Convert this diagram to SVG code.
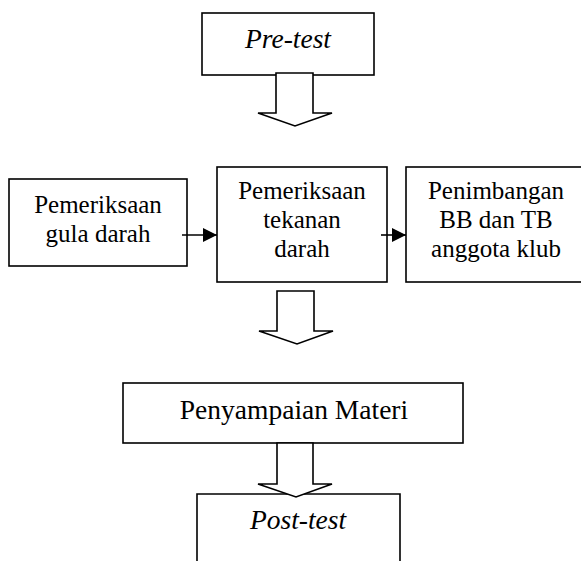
<svg xmlns="http://www.w3.org/2000/svg" width="581" height="561" viewBox="0 0 581 561">
<style>
.box{fill:#fff;stroke:#000;stroke-width:1.6}
.blk{fill:#fff;stroke:#000;stroke-width:1.6;stroke-linejoin:miter}
.t{font-family:"Liberation Serif","Times New Roman",serif;fill:#000;text-anchor:middle}
.s25{font-size:25px}
.s27{font-size:27.5px}
.it{font-style:italic}
.ln{stroke:#000;stroke-width:1.6;fill:none}
</style>
<defs>
<marker id="ah" viewBox="0 0 14 14" refX="14" refY="7" markerWidth="14" markerHeight="14" markerUnits="userSpaceOnUse" orient="auto">
<path d="M0,0 L14,7 L0,14 Z" fill="#000"/>
</marker>
</defs>
<rect width="581" height="561" fill="#fff"/>
<g id="pretest">
<rect class="box" x="202" y="13" width="172" height="62"/>
<text class="t s27 it" x="288" y="48">Pre-test</text>
</g>
<g id="gula">
<rect class="box" x="9" y="179" width="178" height="87"/>
<text class="t s25" x="98" y="213">Pemeriksaan</text>
<text class="t s25" x="98" y="242">gula darah</text>
</g>
<g id="tekanan">
<rect class="box" x="217" y="167" width="170" height="115"/>
<text class="t s25" x="302" y="199">Pemeriksaan</text>
<text class="t s25" x="302" y="228">tekanan</text>
<text class="t s25" x="302" y="257">darah</text>
</g>
<g id="penimbangan">
<rect class="box" x="406" y="167" width="190" height="115"/>
<text class="t s25" x="496" y="199">Penimbangan</text>
<text class="t s25" x="496" y="228">BB dan TB</text>
<text class="t s25" x="496" y="257">anggota klub</text>
</g>
<g id="materi">
<rect class="box" x="123" y="383" width="340" height="60"/>
<text class="t s27" x="294" y="419">Penyampaian Materi</text>
</g>
<g id="posttest">
<path class="box" d="M197,565 L197,494 L400,494 L400,565"/>
<text class="t s27 it" x="298" y="529">Post-test</text>
</g>
<g id="connectors">
<line class="ln" x1="182" y1="235" x2="217" y2="235" marker-end="url(#ah)"/>
<line class="ln" x1="381" y1="235" x2="406" y2="235" marker-end="url(#ah)"/>
<polygon class="blk" points="276,73 313,73 313,113 332,113 295,126 258,113 276,113"/>
<polygon class="blk" points="277,291 314,291 314,331 333,331 297,344 259,331 277,331"/>
<polygon class="blk" points="277,443 313,443 313,484 332,484 296,497 258,484 277,484"/>
</g>
</svg>
